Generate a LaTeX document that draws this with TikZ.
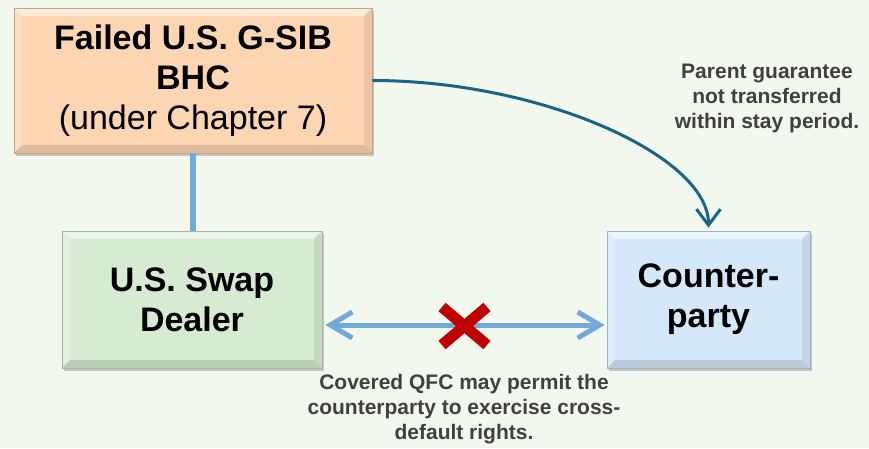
\documentclass[tikz,border=0pt]{standalone}
\usepackage{fontspec}
\setmainfont{Liberation Sans}
\usetikzlibrary{arrows.meta,shadows,calc}
\definecolor{bg}{HTML}{F3F8EF}
\definecolor{orfill}{HTML}{FCD5B2}
\definecolor{oredge}{HTML}{C9A27E}
\definecolor{grfill}{HTML}{D7EAD2}
\definecolor{gredge}{HTML}{A7B8A2}
\definecolor{blfill}{HTML}{D5E8F9}
\definecolor{bledge}{HTML}{9FB3C6}
\definecolor{lineblue}{HTML}{72A9D8}
\definecolor{teal}{HTML}{1A6586}
\definecolor{xred}{HTML}{C00000}
\definecolor{lblgray}{HTML}{404040}
\begin{document}
\begin{tikzpicture}[x=1pt,y=1pt,
  bevel/.style={path picture={
    \fill[white,opacity=.55] (path picture bounding box.north west) -- (path picture bounding box.north east)
      -- ([xshift=-8pt,yshift=-8pt]path picture bounding box.north east) -- ([xshift=8pt,yshift=-8pt]path picture bounding box.north west) -- cycle;
    \fill[white,opacity=.25] (path picture bounding box.north west) -- ([xshift=8pt,yshift=-8pt]path picture bounding box.north west)
      -- ([xshift=8pt,yshift=8pt]path picture bounding box.south west) -- (path picture bounding box.south west) -- cycle;
    \fill[black,opacity=.12] (path picture bounding box.south west) -- ([xshift=8pt,yshift=8pt]path picture bounding box.south west)
      -- ([xshift=-8pt,yshift=8pt]path picture bounding box.south east) -- (path picture bounding box.south east) -- cycle;
    \fill[black,opacity=.07] (path picture bounding box.south east) -- ([xshift=-8pt,yshift=8pt]path picture bounding box.south east)
      -- ([xshift=-8pt,yshift=-8pt]path picture bounding box.north east) -- (path picture bounding box.north east) -- cycle;
  }},
  box/.style={rectangle, inner sep=0pt, align=center, line width=0.8pt, bevel,
    drop shadow={shadow xshift=2pt, shadow yshift=-3pt, opacity=0.35, fill=black!60},
    font=\fontsize{34}{40}\selectfont},
  lbl/.style={align=center, inner sep=0pt, text=lblgray, font=\fontsize{21}{25}\selectfont\bfseries},
  vline/.style={draw=lineblue, line width=6pt},
  curvearrow/.style={draw=teal, line width=3pt, -{Straight Barb[length=16pt,width=24pt,line width=3pt]}},
  dblarrow/.style={draw=lineblue, line width=5pt, {Straight Barb[length=22pt,width=26pt,line width=5pt]}-{Straight Barb[length=22pt,width=26pt,line width=5pt]}},
  redx/.style={draw=xred, line width=11pt}
]
\fill[bg] (0,0) rectangle (869,448);
\useasboundingbox (0,0) rectangle (869,448);

\node[box, fill=orfill, draw=oredge, minimum width=358pt, minimum height=145pt] (bhc) at (193,367.5)
  {\textbf{Failed U.S. G-SIB}\\\textbf{BHC}\\(under Chapter 7)};
\node[box, fill=grfill, draw=gredge, minimum width=260pt, minimum height=137pt] (sd) at (192,148.5)
  {\textbf{U.S. Swap}\\\textbf{Dealer}};
\node[box, fill=blfill, draw=bledge, minimum width=203pt, minimum height=137pt] (cp) at (708.5,148.5)
  {\textbf{Counter-}\\\textbf{party}};

\draw[vline] (bhc.south) -- (bhc.south |- sd.north);
\draw[curvearrow] (bhc.east) .. controls +(168,0) and +(0,72) .. ([yshift=3pt]cp.north);
\draw[dblarrow] ([shift={(3,-25.5)}]sd.east) -- ([shift={(-2,-25.5)}]cp.west);

\coordinate (xc) at (464.5,122);
\draw[redx] ($(xc)+(-22.5,19)$) -- ($(xc)+(22.5,-19)$);
\draw[redx] ($(xc)+(22.5,19)$) -- ($(xc)+(-22.5,-19)$);

\node[lbl] (lg) at (767,350) {Parent guarantee\\not transferred\\within stay period.};
\node[lbl] (lq) at (464,39) {Covered QFC may permit the\\counterparty to exercise cross-\\default rights.};
\end{tikzpicture}
\end{document}
